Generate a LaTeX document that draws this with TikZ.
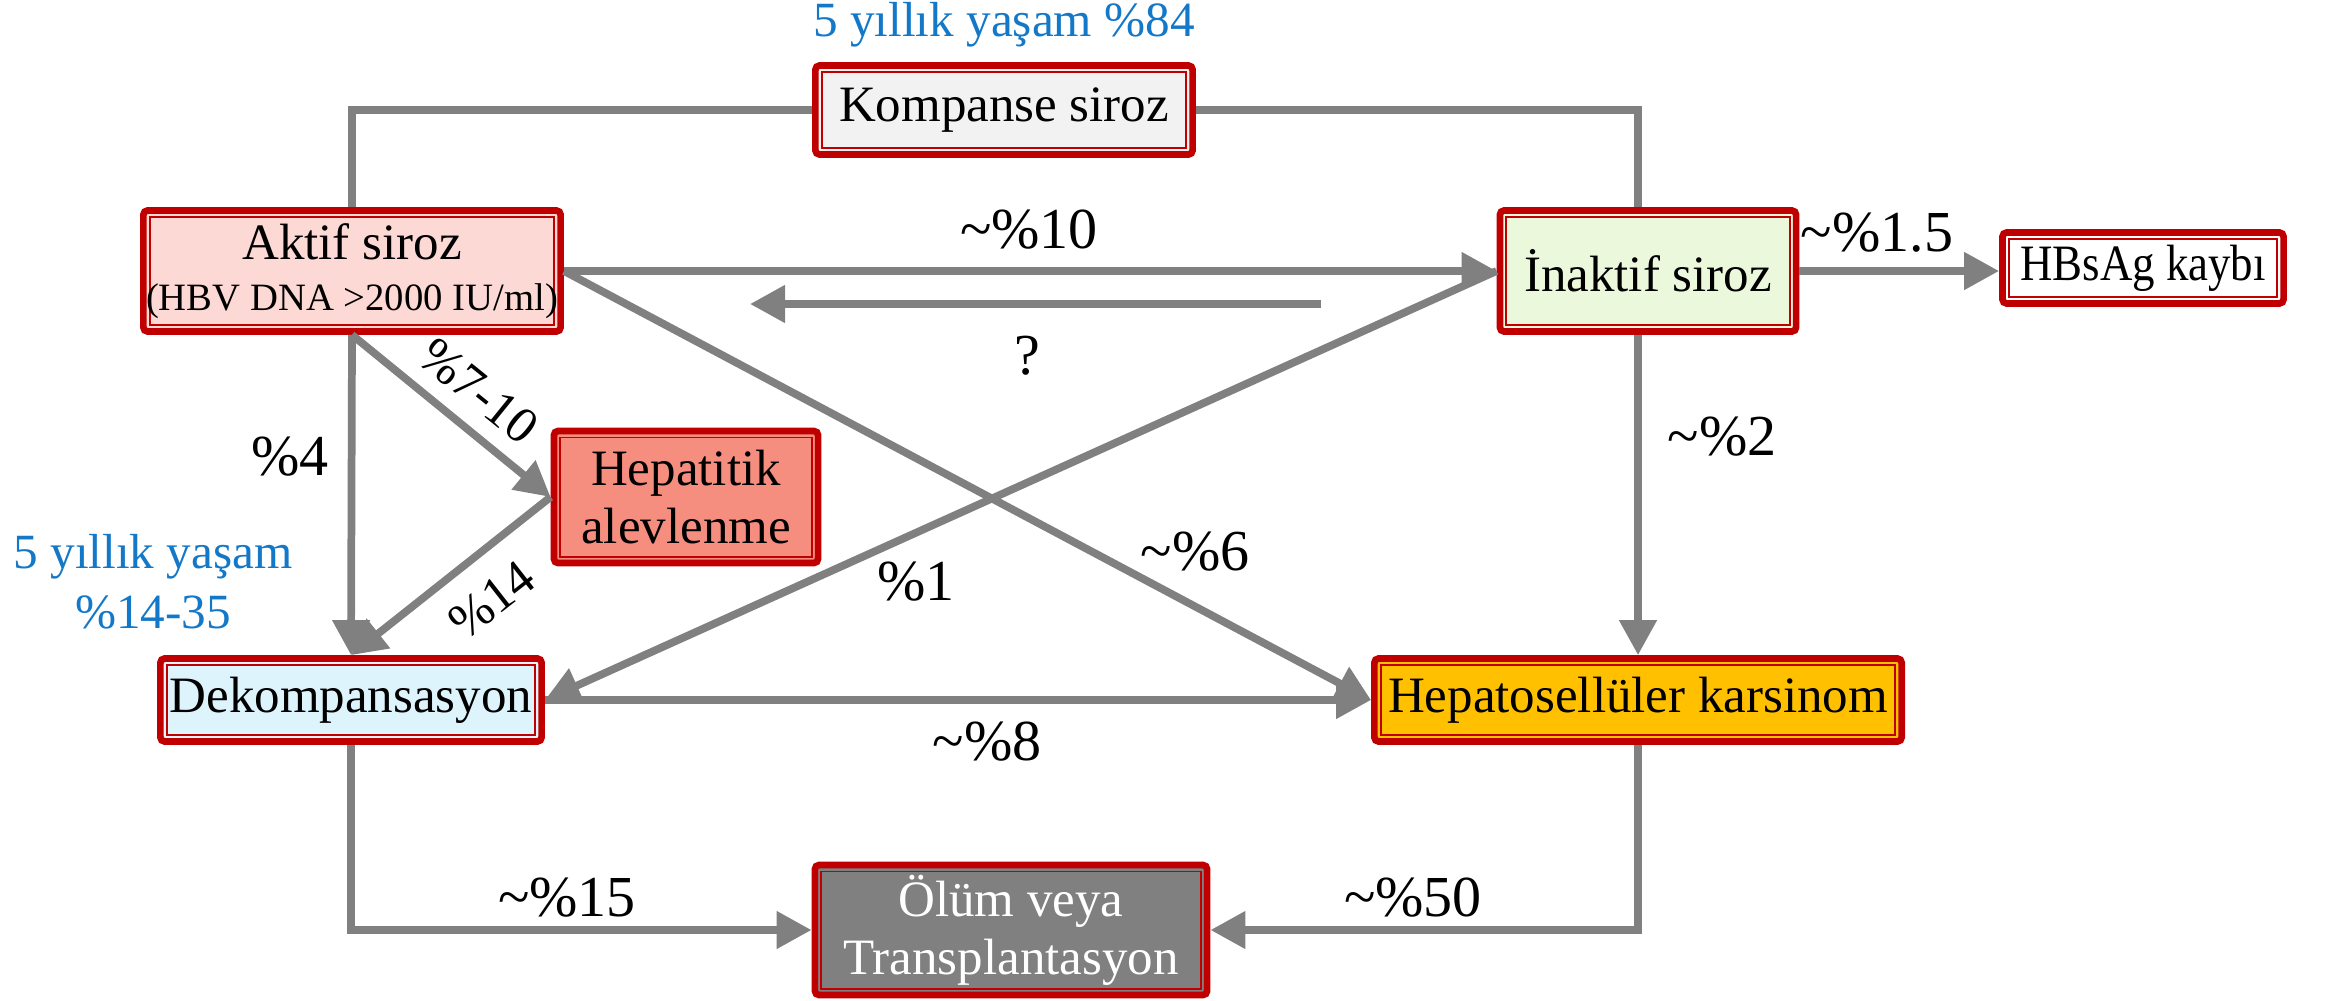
\documentclass[tikz,border=0pt]{standalone}
\usepackage{fontspec}
\setmainfont{Liberation Serif}
\newfontfamily\condfont[FakeStretch=0.88]{Liberation Serif}
\usetikzlibrary{arrows.meta,calc}
\definecolor{bred}{HTML}{C00000}
\definecolor{lgray}{HTML}{808080}
\definecolor{tblue}{RGB}{20,120,200}
\definecolor{fkomp}{HTML}{F2F2F2}
\definecolor{faktif}{HTML}{FCD9D4}
\definecolor{finak}{HTML}{EBF8DC}
\definecolor{fhep}{RGB}{245,142,127}
\definecolor{fdek}{HTML}{DDF4FC}
\definecolor{fhcc}{HTML}{FFC000}
\begin{document}
\begin{tikzpicture}[x=0.01cm,y=-0.01cm,
  bx/.style={draw=bred, line width=1.9pt, rounded corners=1.2pt, inner sep=0pt, align=center,
    font=\fontsize{14.5}{16.5}\selectfont,
    path picture={\draw[bred, line width=0.55pt, sharp corners]
      ([shift={(0.065cm,0.065cm)}]path picture bounding box.south west) rectangle
      ([shift={(-0.065cm,-0.065cm)}]path picture bounding box.north east);}},
  con/.style={draw=lgray, line width=2.2pt},
  arr/.style={con, -{Triangle[length=0.35cm,width=0.36cm]}},
  lab/.style={font=\fontsize{16.5}{19}\selectfont, inner sep=0pt},
  slab/.style={font=\fontsize{14.5}{17}\selectfont, inner sep=0pt},
  blu/.style={text=tblue, font=\fontsize{14}{17}\selectfont, align=center, inner sep=0pt}]
\useasboundingbox (0,0) rectangle (2328,1000);

% boxes
\node[bx, fill=fkomp, minimum width=3.77cm, minimum height=0.89cm] (komp) at (1004,110) {Kompanse siroz};
\node[bx, fill=faktif, minimum width=4.17cm, minimum height=1.21cm] (aktif) at (352,271)
  {Aktif siroz\\[-2pt]{\fontsize{11}{13}\selectfont (HBV DNA >2000 IU/ml)}};
\node[bx, fill=finak, minimum width=2.96cm, minimum height=1.21cm] (inak) at (1648,271) {İnaktif siroz};
\node[bx, fill=white, minimum width=2.81cm, minimum height=0.71cm] (hbs) at (2143,268) {\condfont HBsAg kaybı};
\node[bx, fill=fhep, minimum width=2.64cm, minimum height=1.32cm] (hep) at (686,497) {Hepatitik\\alevlenme};
\node[bx, fill=fdek, minimum width=3.81cm, minimum height=0.83cm] (dek) at (351,700) {Dekompansasyon};
\node[bx, fill=fhcc, minimum width=5.27cm, minimum height=0.83cm] (hcc) at (1638,700) {Hepatosellüler karsinom};
\node[bx, fill=lgray, text=white, minimum width=3.92cm, minimum height=1.30cm] (olum) at (1011,930) {Ölüm veya\\Transplantasyon};

% coordinates for the free arrow
\coordinate (q1) at (1321,304);
\coordinate (q2) at (750,304);

% connectors
\draw[con] (komp.west) -| (aktif.north);
\draw[con] (komp.east) -| (hcc.north |- inak.north);
\draw[arr] (aktif.east) -- (inak.west);
\draw[arr] (q1) -- (q2);
\draw[arr] (inak.east) -- (inak.east -| hbs.west);
\draw[arr] (aktif.south) -- (dek.north);
\draw[arr] (aktif.south) -- (hep.west);
\draw[arr] (hep.west) -- (dek.north);
\draw[arr] (aktif.east) -- (hcc.west);
\draw[arr] (inak.west) -- (dek.east);
\draw[arr] (hcc.north |- inak.south) -- (hcc.north);
\draw[arr] (dek.east) -- (hcc.west);
\draw[arr] (dek.south) |- (olum.west);
\draw[arr] (hcc.south) |- (olum.east);

% labels
\node[blu] (t84) at (1004,25) {5 yıllık yaşam \%84};
\node[blu] (t14) at (153,582) {5 yıllık yaşam\\\%14-35};
\node[lab] (l10) at (1029,230) {\textasciitilde\%10};
\node[lab] (lq) at (1027,356) {?};
\node[lab] (l15a) at (1877,233) {\textasciitilde\%1.5};
\node[lab] (l4) at (290,457) {\%4};
\node[slab, rotate=-39] (l710) at (479,391) {\%7-10};
\node[slab, rotate=38] (l14) at (492,600) {\%14};
\node[lab] (l6) at (1195,552) {\textasciitilde\%6};
\node[lab] (l1) at (916,582) {\%1};
\node[lab] (l2) at (1722,437) {\textasciitilde\%2};
\node[lab] (l8) at (987,742) {\textasciitilde\%8};
\node[lab] (l15) at (567,898) {\textasciitilde\%15};
\node[lab] (l50) at (1413,898) {\textasciitilde\%50};
\end{tikzpicture}
\end{document}
